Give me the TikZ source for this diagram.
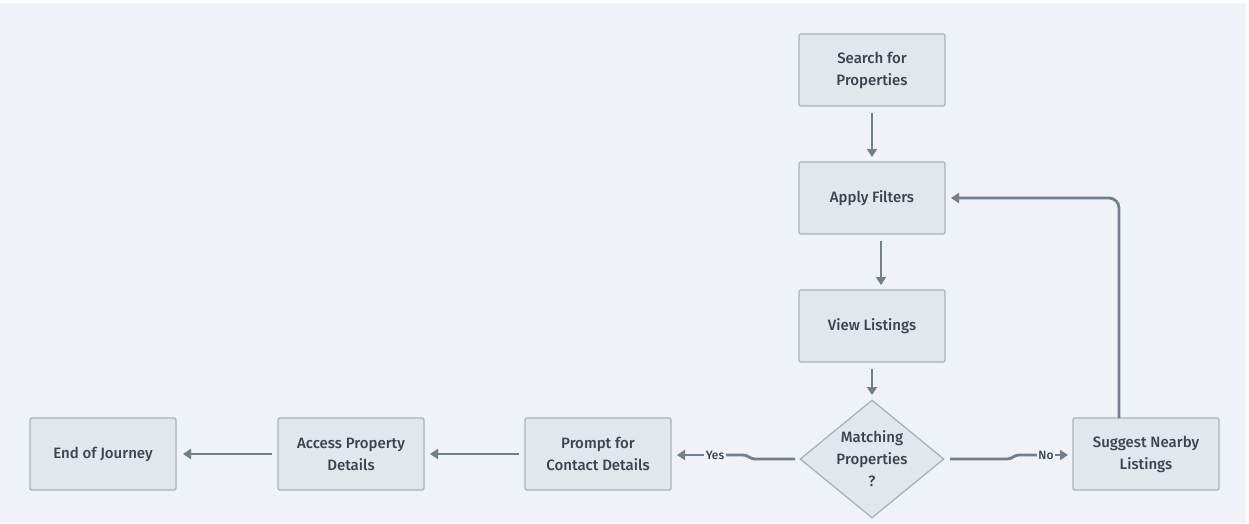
\documentclass[tikz,border=0pt]{standalone}
\usepackage{fontspec}
\setmainfont{Fira Sans}[UprightFont={* Medium}]
\usetikzlibrary{shapes.geometric,arrows.meta}
\definecolor{bgc}{HTML}{EFF3F7}
\definecolor{boxfill}{HTML}{E2E6ED}
\definecolor{boxline}{HTML}{AAB2BD}
\definecolor{txt}{HTML}{3A4350}
\definecolor{arr}{HTML}{717F8E}
\tikzset{
  stepbox/.style={draw=boxline, line width=1.3pt, fill=boxfill, rounded corners=2pt,
    minimum width=146pt, minimum height=72pt, align=center, text=txt,
    font=\fontsize{15}{22}\selectfont, inner sep=0pt},
  decision/.style={diamond, draw=boxline, line width=1.3pt, fill=boxfill, align=center,
    text=txt, font=\fontsize{15}{22}\selectfont, minimum width=144pt, minimum height=118pt,
    inner sep=0pt, aspect=1.22},
  flow/.style={draw=arr, line width=2.8pt, -{Triangle[length=8pt,width=10pt]}},
  flowline/.style={draw=arr, line width=2.8pt},
  lbl/.style={fill=bgc, text=txt, font=\fontsize{12}{14}\selectfont, inner sep=1.5pt}
}
\begin{document}
\begin{tikzpicture}[x=1pt,y=-1pt]
\useasboundingbox (0,0) rectangle (1249,523);
\fill[white] (0,0) rectangle (1249,523);
\fill[bgc] (0,3) rectangle (1246,523);

\node[stepbox] (search) at (872,70) {Search for\\Properties};
\node[stepbox] (filters) at (872,198) {Apply Filters};
\node[stepbox] (view) at (872,326) {View Listings};
\node[decision] (match) at (872,459) {Matching\\Properties\\?};
\node[stepbox] (suggest) at (1146,454) {Suggest Nearby\\Listings};
\node[stepbox] (prompt) at (598,454) {Prompt for\\Contact Details};
\node[stepbox] (access) at (351,454) {Access Property\\Details};
\node[stepbox] (endj) at (103,454) {End of Journey};

\coordinate (s1) at (872,113);
\coordinate (s2) at (872,157);
\draw[flow] (s1) -- (s2);
\coordinate (f1) at (881,241);
\coordinate (f2) at (881,285);
\draw[flow] (f1) -- (f2);
\coordinate (v1) at (872,369);
\coordinate (v2) at (872,395);
\draw[flow] (v1) -- (v2);

% No branch
\coordinate (n1) at (950,459);
\coordinate (n2) at (1010,459);
\coordinate (n3) at (1016,455);
\coordinate (n4) at (1068,455);
\draw[flowline, rounded corners=3pt] (n1) -- (n2) -- (n3) -- (1040,455);
\node[lbl] (nolbl) at (1046,455) {No};
\draw[flow] (nolbl.east) -- (n4);

% Yes branch
\coordinate (y1) at (795,459);
\coordinate (y2) at (752,459);
\coordinate (y3) at (746,455);
\coordinate (y4) at (677,455);
\draw[flowline, rounded corners=3pt] (y1) -- (y2) -- (y3) -- (725,455);
\node[lbl] (yeslbl) at (715,455) {Yes};
\draw[flow] (yeslbl.west) -- (y4);

% loop back
\coordinate (l1) at (1119,418);
\coordinate (l2) at (1119,198);
\coordinate (l3) at (951,198);
\draw[flow, rounded corners=10pt] (l1) -- (l2) -- (l3);

\draw[flow] (519,454) -- (430,454);
\draw[flow] (272,454) -- (183,454);
\end{tikzpicture}
\end{document}
